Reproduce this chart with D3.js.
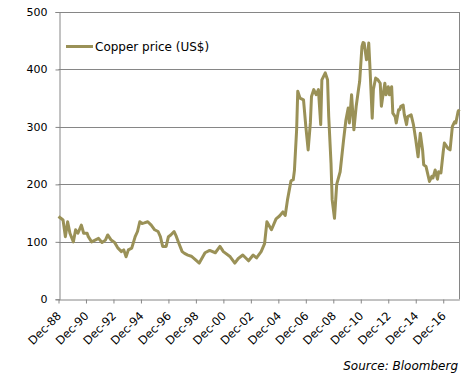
<!DOCTYPE html>
<html>
<head>
<meta charset="utf-8">
<script src="https://cdn.jsdelivr.net/npm/d3@7"></script>
<style>
	body { margin: 0; background: #fff; }
	svg { display: block; font-family: "DejaVu Sans", Verdana, sans-serif; }
</style>
</head>
<body>
<div id="chart"></div>
<script>
'use strict';

// monthly points (US cents/lb)
var months = [
	'1988-12','1989-02','1989-04','1989-06','1989-08','1989-10','1990-01','1990-03','1990-05','1990-08',
	'1990-10','1991-01','1991-02','1991-05','1991-08','1991-11','1992-02','1992-05','1992-07','1992-10',
	'1993-01','1993-04','1993-07','1993-09','1993-11','1994-01','1994-04','1994-07','1994-09','1994-11',
	'1995-01','1995-03','1995-06','1995-09','1995-12','1996-03','1996-05','1996-07','1996-10','1996-12',
	'1997-02','1997-05','1997-07','1997-09','1997-12','1998-02','1998-05','1998-08','1998-11','1999-03',
	'1999-08','1999-12','2000-05','2000-09','2000-12','2001-06','2001-10','2002-01','2002-05','2002-10',
	'2003-02','2003-05','2003-09','2003-12','2004-02','2004-06','2004-10','2005-01','2005-04','2005-06',
	'2005-08','2005-11','2006-01','2006-02','2006-04','2006-05','2006-07','2006-10','2006-12','2007-02',
	'2007-04','2007-05','2007-07','2007-09','2007-11','2008-01','2008-02','2008-05','2008-07','2008-08',
	'2008-10','2008-11','2009-01','2009-03','2009-06','2009-09','2009-11','2010-01','2010-02','2010-04',
	'2010-06','2010-08','2010-10','2010-11','2011-01','2011-02','2011-03','2011-05','2011-06','2011-07',
	'2011-08','2011-10','2011-11','2012-01','2012-03','2012-05','2012-06','2012-07','2012-09','2012-10',
	'2012-12','2013-01','2013-03','2013-04','2013-06','2013-07','2013-09','2013-10','2013-11','2014-01',
	'2014-02','2014-04','2014-05','2014-08','2014-10','2014-12','2015-02','2015-04','2015-06','2015-07',
	'2015-09','2015-12','2016-02','2016-03','2016-05','2016-07','2016-08','2016-10','2016-12','2017-01',
	'2017-04','2017-06','2017-08','2017-10','2017-11','2018-01','2018-02'
];
var price = [
	144,141,138,109,135,115,100,121,115,129,
	115,115,109,100,103,106,99,103,112,103,
	99,89,83,86,74,86,89,109,118,135,
	132,133,135,129,121,118,109,92,92,109,
	112,118,109,98,83,80,77,75,70,63,
	81,85,81,92,83,74,63,71,77,67,
	77,72,83,97,135,121,140,145,152,146,
	173,206,208,224,295,362,350,347,301,260,
	307,353,365,356,365,304,382,394,382,318,
	237,173,141,200,222,278,312,333,307,356,
	295,336,365,379,440,447,446,417,423,446,
	405,315,365,385,382,376,336,350,376,356,
	370,356,370,324,318,307,330,330,336,338,
	321,304,318,321,304,278,248,289,260,234,
	231,205,214,211,225,209,222,220,257,272,
	263,260,301,309,307,327,330
];
var yTicks = [0, 100, 200, 300, 400, 500];
var xTickYears = [1988, 1990, 1992, 1994, 1996, 1998, 2000, 2002, 2004, 2006, 2008, 2010, 2012, 2014, 2016];
var seriesName = 'Copper price (US$)';
var sourceText = 'Source: Bloomberg';

var W = 473, H = 387;
var margin = { top: 12, right: 13.7, bottom: 87.7, left: 58.5 };
var lineColor = '#9a9157', gridColor = '#868686';

var parseMonth = d3.timeParse('%Y-%m');
var data = months.map(function (m, i) { return { date: parseMonth(m), value: price[i] }; });

var svg = d3.select('#chart').append('svg')
	.attr('width', W)
	.attr('height', H);

var x = d3.scaleTime()
	.domain(d3.extent(data, function (d) { return d.date; }))
	.range([margin.left, W - margin.right]);
var y = d3.scaleLinear()
	.domain([0, 500])
	.range([H - margin.bottom, margin.top]);

// gridlines
svg.append('g')
	.selectAll('line')
	.data(yTicks.slice(1))
	.enter().append('line')
	.attr('x1', margin.left)
	.attr('x2', W - margin.right)
	.attr('y1', function (d) { return Math.round(y(d)) + 0.5; })
	.attr('y2', function (d) { return Math.round(y(d)) + 0.5; })
	.style('stroke', gridColor);

// right border of plot area
svg.append('line')
	.attr('x1', Math.round(W - margin.right) + 0.5)
	.attr('x2', Math.round(W - margin.right) + 0.5)
	.attr('y1', y(500))
	.attr('y2', y(0))
	.style('stroke', gridColor);

// y axis
var yAxis = svg.append('g')
	.attr('transform', 'translate(' + (Math.round(margin.left) + 0.5) + ',0)')
	.call(d3.axisLeft(y).tickValues(yTicks).tickSize(4).tickFormat(d3.format('d')));
yAxis.select('.domain').style('stroke', gridColor);
yAxis.selectAll('.tick line').style('stroke', gridColor);
yAxis.selectAll('.tick text')
	.attr('x', -12)
	.style('font-size', '11px')
	.style('font-family', '"DejaVu Sans", Verdana, sans-serif')
	.style('fill', '#000');

// x axis
var xTicks = xTickYears.map(function (yr) { return new Date(yr, 11, 1); });
var xAxis = svg.append('g')
	.attr('transform', 'translate(0,' + (Math.round(y(0)) + 0.5) + ')')
	.call(d3.axisBottom(x).tickValues(xTicks).tickSize(4).tickSizeOuter(0).tickFormat(d3.timeFormat('Dec-%y')));
xAxis.select('.domain').style('stroke', gridColor);
xAxis.selectAll('.tick line').style('stroke', gridColor);
xAxis.selectAll('.tick text')
	.attr('y', 0)
	.attr('dy', 0)
	.attr('transform', 'translate(3,17) rotate(-45)')
	.style('text-anchor', 'end')
	.style('font-size', '11.5px')
	.style('font-family', '"DejaVu Sans", Verdana, sans-serif')
	.style('fill', '#000');

// price line
var line = d3.line()
	.x(function (d) { return x(d.date); })
	.y(function (d) { return y(d.value); });
svg.append('path')
	.datum(data)
	.attr('d', line)
	.style('fill', 'none')
	.style('stroke', lineColor)
	.style('stroke-width', 3)
	.style('stroke-linejoin', 'round');

// legend
var lg = svg.append('g').attr('transform', 'translate(66,46.5)');
lg.append('line')
	.attr('x1', 0).attr('x2', 27)
	.style('stroke', lineColor)
	.style('stroke-width', 3);
lg.append('text')
	.attr('x', 29)
	.attr('y', 4.5)
	.style('font-size', '12px')
	.text(seriesName);

// source note
svg.append('text')
	.attr('x', 458)
	.attr('y', 370)
	.attr('text-anchor', 'end')
	.style('font-size', '12px')
	.style('font-style', 'italic')
	.text(sourceText);
</script>
</body>
</html>
